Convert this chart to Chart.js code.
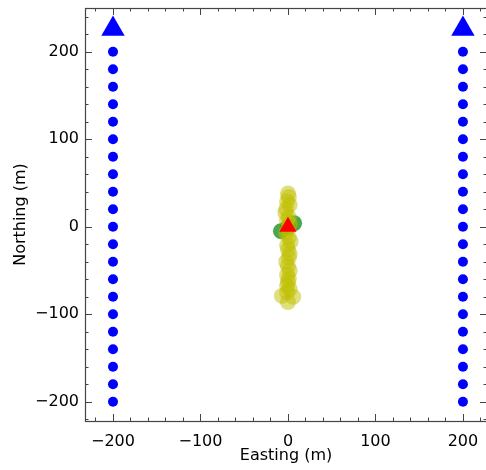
<!DOCTYPE html>
<html>
<head>
<meta charset="utf-8">
<script src="https://cdn.jsdelivr.net/npm/chart.js@4.4.1/dist/chart.umd.min.js"></script>
<style>
html,body{margin:0;padding:0;background:#fff;overflow:hidden;}
#wrap{width:490px;height:470px;}
</style>
</head>
<body>
<div id="wrap"><canvas id="c" width="490" height="470"></canvas></div>
<script>
// ---- data ----
const receiverNorthing = [-200,-180,-160,-140,-120,-100,-80,-60,-40,-20,0,20,40,60,80,100,120,140,160,180,200];
const westLineEasting = -200;
const eastLineEasting = 200;
const sourceEasting = [-200, 200];
const sourceNorthing = [226, 226];
const cloudEasting  = [0, 1, -1, 2, -2, -3, 1, -1, 2, 0, -2, 1, 3, -1, 0, 2, 1, -2, 0, 2, -1, 1, 0, -1, 2, -1, -7, 6, 0];
const cloudNorthing = [38, 34, 29, 25, 20, 16, 11, 7, 3, -2, -7, -12, -17, -21, -26, -31, -35, -40, -45, -50, -55, -59, -63, -67, -71, -75, -79, -80, -86];
const clusterEasting  = [-8, 7, 0];
const clusterNorthing = [-5, 4, 0];
const originEasting  = [0];
const originNorthing = [0];
const xTicks = [-200, -100, 0, 100, 200];
const yTicks = [-200, -100, 0, 100, 200];
const xMinorStep = 20, yMinorStep = 20;

const pts = (xs, ys) => xs.map((x, i) => ({x: x, y: ys[i]}));
const line = (x) => receiverNorthing.map(y => ({x: x, y: y}));

const FONT = 'DejaVu Sans';
const AXIS_COLOR = '#444';

const framePlugin = {
  id: 'frame',
  afterDatasetsDraw(chart) {
    const {ctx, chartArea: a, scales} = chart;
    const xs = scales.x, ys = scales.y;
    ctx.save();
    ctx.strokeStyle = AXIS_COLOR;
    ctx.lineWidth = 1;
    ctx.beginPath();
    const majL = 7, minL = 3.5;
    const tickX = (v, len) => {
      const p = Math.round(xs.getPixelForValue(v)) + 0.5;
      ctx.moveTo(p, a.bottom); ctx.lineTo(p, a.bottom - len);
      ctx.moveTo(p, a.top); ctx.lineTo(p, a.top + len);
    };
    const tickY = (v, len) => {
      const p = Math.round(ys.getPixelForValue(v)) + 0.5;
      ctx.moveTo(a.left, p); ctx.lineTo(a.left + len, p);
      ctx.moveTo(a.right, p); ctx.lineTo(a.right - len, p);
    };
    for (let v = Math.ceil(xs.min / xMinorStep) * xMinorStep; v <= xs.max; v += xMinorStep) {
      tickX(v, xTicks.includes(v) ? majL : minL);
    }
    for (let v = Math.ceil(ys.min / yMinorStep) * yMinorStep; v <= ys.max; v += yMinorStep) {
      tickY(v, yTicks.includes(v) ? majL : minL);
    }
    ctx.stroke();
    ctx.lineWidth = 1.2;
    ctx.strokeRect(Math.round(a.left) + 0.5, Math.round(a.top) + 0.5, Math.round(a.right - a.left), Math.round(a.bottom - a.top));
    ctx.restore();
  }
};

const noPad = (s) => { s.paddingTop = 0; s.paddingBottom = 0; s.paddingLeft = 0; s.paddingRight = 0; };

new Chart(document.getElementById('c'), {
  type: 'scatter',
  data: {
    datasets: [
      { label: 'origin', data: pts(originEasting, originNorthing), pointStyle: 'triangle', pointRadius: 10,
        backgroundColor: '#ff0000', borderColor: '#ff0000', borderWidth: 0, order: 0 },
      { label: 'cloud', data: pts(cloudEasting, cloudNorthing), pointRadius: 8,
        backgroundColor: 'rgba(191,191,0,0.5)', borderColor: 'rgba(191,191,0,0.5)', borderWidth: 0, order: 1 },
      { label: 'cluster', data: pts(clusterEasting, clusterNorthing), pointRadius: 8,
        backgroundColor: 'rgba(0,128,0,0.7)', borderColor: 'rgba(0,128,0,0.7)', borderWidth: 0, order: 2 },
      { label: 'sources', data: pts(sourceEasting, sourceNorthing), pointStyle: 'triangle', pointRadius: 13.5,
        backgroundColor: '#0000ff', borderColor: '#0000ff', borderWidth: 0, order: 3 },
      { label: 'west', data: line(westLineEasting), pointRadius: 5,
        backgroundColor: '#0000ff', borderColor: '#0000ff', borderWidth: 0, order: 4 },
      { label: 'east', data: line(eastLineEasting), pointRadius: 5,
        backgroundColor: '#0000ff', borderColor: '#0000ff', borderWidth: 0, order: 4 }
    ]
  },
  options: {
    responsive: false,
    animation: false,
    layout: { autoPadding: false, padding: { top: 8, right: 3, left: 0, bottom: 0 } },
    plugins: { legend: { display: false }, tooltip: { enabled: false } },
    elements: { point: { hoverRadius: 0 } },
    scales: {
      x: {
        type: 'linear', min: -232, max: 227.5,
        afterBuildTicks: (s) => { s.ticks = xTicks.map(v => ({value: v})); },
        afterFit: (s) => { s.height = 49; noPad(s); },
        grid: { display: false, drawTicks: false },
        border: { display: false },
        ticks: { color: '#000', font: { family: FONT, size: 16 }, padding: 11, maxRotation: 0,
                 callback: (v) => String(v).replace('-', '\u2212') },
        title: { display: true, text: 'Easting (m)', color: '#000', font: { family: FONT, size: 16 }, padding: { top: 0, bottom: 5 } }
      },
      y: {
        type: 'linear', min: -222, max: 250,
        afterBuildTicks: (s) => { s.ticks = yTicks.map(v => ({value: v})); },
        afterFit: (s) => { s.width = 85; noPad(s); },
        grid: { display: false, drawTicks: false },
        border: { display: false },
        ticks: { color: '#000', font: { family: FONT, size: 16 }, padding: 6,
                 callback: (v) => String(v).replace('-', '\u2212') },
        title: { display: true, text: 'Northing (m)', color: '#000', font: { family: FONT, size: 16 }, padding: { top: 11, bottom: 0 } }
      }
    }
  },
  plugins: [framePlugin]
});
</script>
</body>
</html>
